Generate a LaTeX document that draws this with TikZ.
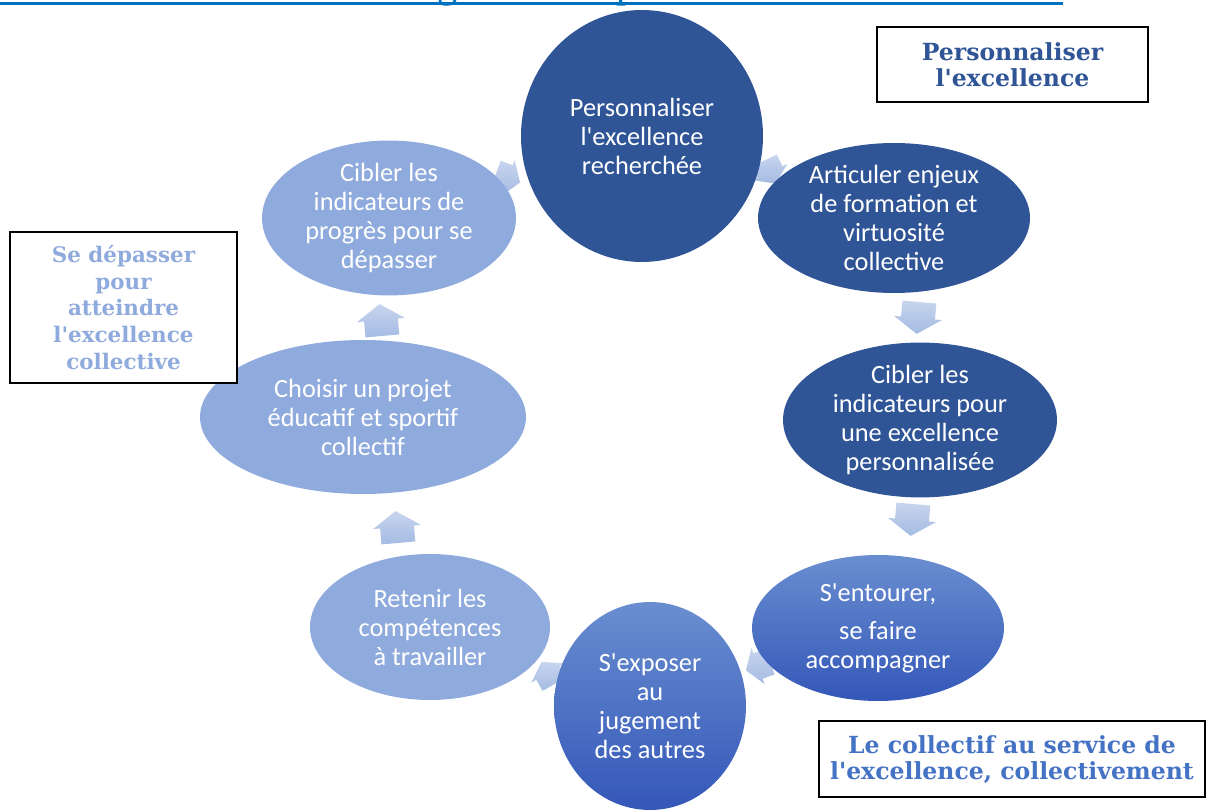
\documentclass[tikz,border=0pt]{standalone}
\usepackage{fontspec}
\setmainfont{Liberation Serif}[Ligatures=TeXOff]
\newfontfamily\calib{Carlito}[Ligatures=TeXOff]
\newfontfamily\boxfont{DejaVu Serif}[Ligatures=TeXOff]
\usepackage{xcolor}
\usepackage{tikz}
\usetikzlibrary{shapes.geometric, positioning}

\definecolor{darkblue}{HTML}{2F5597}
\definecolor{midblue}{HTML}{4472C4}
\definecolor{lightblue}{HTML}{8FAADC}
\definecolor{titleblue}{HTML}{0070C0}

\begin{document}
\begin{tikzpicture}[
    x=0.02cm, y=-0.02cm,
    phase/.style={ellipse, inner sep=0pt, align=center, text=white, font=\calib\fontsize{15}{16.5}\selectfont},
    dark/.style={phase, fill=darkblue},
    mid/.style={phase, top color=midblue!80!white, bottom color=midblue!85!blue!90!black},
    light/.style={phase, fill=lightblue},
    flow/.style={top color=lightblue!50!white, bottom color=lightblue!80!white},
    blockarrow/.pic={\shade[flow] (-16,-17) -- (0,-17) -- (0,-24) -- (16,0) -- (0,24) -- (0,17) -- (-16,17) -- cycle;},
    label/.style={rectangle, draw, thick, fill=white, align=center, inner sep=0pt, font=\boxfont\bfseries\fontsize{13.4}{14.8}\selectfont}
]
\useasboundingbox (0,0) rectangle (1207,810);

% Title (cut by the page)
\node[anchor=base west, inner sep=0pt, text=titleblue, font=\fontsize{23}{23}\selectfont] (title) at (0,-2) {Schéma 1 : Une démarche générative pour construire l'excellence collective};
\fill[titleblue] (0,2.5) rectangle (1063,5);

% Arrows (behind the ellipses)
\pic[rotate=-20, scale=0.8] (a1) at (508,178) {blockarrow};
\pic[rotate=-65, scale=0.8] (a2) at (770,172) {blockarrow};
\pic[rotate=-95] (a3) at (918,318) {blockarrow};
\pic[rotate=-95] (a4) at (912,520) {blockarrow};
\pic[rotate=200, scale=0.8] (a5) at (758,666) {blockarrow};
\pic[rotate=120, scale=0.8] (a6) at (548,673) {blockarrow};
\pic[rotate=95] (a7) at (397,527) {blockarrow};
\pic[rotate=95] (a8) at (381,320) {blockarrow};

% Dark ellipses
\node[dark, minimum width=4.84cm, minimum height=5.04cm] (perso) at (642,136) {Personnaliser\\l'excellence\\recherchée};
\node[dark, minimum width=5.44cm, minimum height=3cm] (articuler) at (894,218) {Articuler enjeux\\de formation et\\virtuosité\\collective};
\node[dark, minimum width=5.48cm, minimum height=3cm] (indic) at (920,420) {Cibler les\\indicateurs pour\\une excellence\\personnalisée};

% Mid ellipses
\node[mid, minimum width=5.04cm, minimum height=2.92cm] (entourer) at (878,628) {S'entourer,\\[5pt]se faire\\accompagner};
\node[mid, minimum width=3.84cm, minimum height=4.16cm] (exposer) at (650,706) {S'exposer\\au\\jugement\\des autres};

% Light ellipses
\node[light, minimum width=4.8cm, minimum height=2.92cm] (retenir) at (430,627) {Retenir les\\compétences\\à travailler};
\node[light, minimum width=6.52cm, minimum height=3.08cm] (choisir) at (363,417) {Choisir un projet\\éducatif et sportif\\collectif};
\node[light, minimum width=5.08cm, minimum height=3cm] (progres) at (389,218) {Cibler les\\indicateurs de\\progrès pour se\\dépasser};

% Labels
\node[label, text=darkblue, minimum width=5.42cm, minimum height=1.5cm] (lperso) at (1012.5,64.5) {Personnaliser\\l'excellence};
\node[label, text=lightblue, font=\boxfont\bfseries\fontsize{12.2}{15.3}\selectfont, minimum width=4.54cm, minimum height=3.02cm] (ldepasser) at (123.5,307.5) {Se dépasser\\pour\\atteindre\\l'excellence\\collective};
\node[label, text=midblue, minimum width=7.72cm, minimum height=1.52cm] (lcollectif) at (1012,759) {Le collectif au service de\\l'excellence, collectivement};

\end{tikzpicture}
\end{document}
